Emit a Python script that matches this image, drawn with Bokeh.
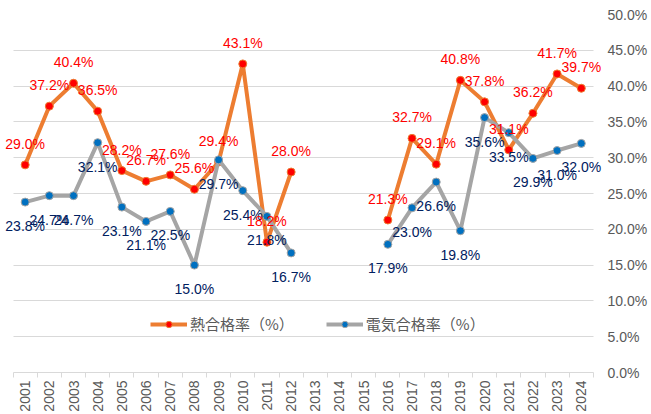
import math
from bokeh.plotting import figure
from bokeh.models import (ColumnDataSource, Range1d, FixedTicker, PrintfTickFormatter,
                          Legend, LegendItem, Label)
from bokeh.embed import file_html
from bokeh.resources import INLINE

years = list(range(2001, 2025))
heat = [29.0, 37.2, 40.4, 36.5, 28.2, 26.7, 27.6, 25.6, 29.4, 43.1, 18.2, 28.0,
        None, None, None, 21.3, 32.7, 29.1, 40.8, 37.8, 31.1, 36.2, 41.7, 39.7]
elec = [23.8, 24.7, 24.7, 32.1, 23.1, 21.1, 22.5, 15.0, 29.7, 25.4, 21.8, 16.7,
        None, None, None, 17.9, 23.0, 26.6, 19.8, 35.6, 33.5, 29.9, 31.0, 32.0]
series_names = ["熱合格率（%）", "電気合格率（%）"]
y_ticks = [0, 5, 10, 15, 20, 25, 30, 35, 40, 45, 50]

NUM_FONT = "Liberation Sans"
CJK_FONT = "Noto Sans CJK JP"

nan = float("nan")
src = ColumnDataSource(dict(
    x=years,
    heat=[nan if v is None else v for v in heat],
    elec=[nan if v is None else v for v in elec],
))

x_lo, x_hi = years[0] - 0.5, years[-1] + 0.5   # category area
pad_l, pad_r = 0.52, 0.46                        # room for edge data labels

p = figure(width=650, height=414,
           x_range=Range1d(x_lo - pad_l, x_hi + pad_r),
           y_range=Range1d(y_ticks[0], y_ticks[-1]),
           output_backend="svg", toolbar_location=None,
           y_axis_location="right",
           min_border_left=0, min_border_right=46, min_border_top=14, min_border_bottom=42)
p.outline_line_color = None
p.background_fill_color = "white"

# x axis
xa = p.xaxis[0]
xa.bounds = (x_lo, x_hi)
xa.ticker = FixedTicker(ticks=years, minor_ticks=[y - 0.5 for y in years] + [x_hi])
xa.major_label_overrides = {y: str(y) for y in years}
xa.major_tick_line_color = None
xa.major_tick_out = 0
xa.major_tick_in = 0
xa.minor_tick_line_color = "#d9d9d9"
xa.minor_tick_out = 5
xa.minor_tick_in = 0
xa.axis_line_color = "#d9d9d9"
xa.major_label_orientation = math.pi / 2
xa.major_label_standoff = 3
xa.major_label_text_font = NUM_FONT
xa.major_label_text_font_size = "14px"
xa.major_label_text_color = "#595959"

# y axis (right)
ya = p.yaxis[0]
ya.ticker = FixedTicker(ticks=y_ticks)
ya.formatter = PrintfTickFormatter(format="%.1f%%")
ya.major_tick_line_color = None
ya.minor_tick_line_color = None
ya.major_tick_out = 0
ya.axis_line_color = None
ya.major_label_standoff = 3
ya.major_label_text_font = NUM_FONT
ya.major_label_text_font_size = "14px"
ya.major_label_text_color = "#595959"

p.xgrid.grid_line_color = None
yg = p.ygrid[0]
if "cross_bounds" in yg.properties():
    yg.ticker = FixedTicker(ticks=y_ticks)
    yg.grid_line_color = "#d9d9d9"
    yg.grid_line_width = 1
    yg.cross_bounds = (x_lo, x_hi)
else:
    yg.grid_line_color = None
    p.segment(x0=[x_lo] * len(y_ticks), x1=[x_hi] * len(y_ticks), y0=y_ticks, y1=y_ticks,
              line_color="#d9d9d9", line_width=1, level="underlay")

l1 = p.line(x="x", y="heat", source=src, line_color="#ED7D31", line_width=4, line_join="round")
s1 = p.scatter(x="x", y="heat", source=src, size=8, fill_color="#FF0000",
               line_color="#ED7D31", line_width=1)
l2 = p.line(x="x", y="elec", source=src, line_color="#A5A5A5", line_width=4, line_join="round")
s2 = p.scatter(x="x", y="elec", source=src, size=8, fill_color="#0070C0",
               line_color="#A5A5A5", line_width=1)

# data labels
for x, v in zip(years, elec):
    if v is not None:
        p.add_layout(Label(x=x, y=v, text=f"{v:.1f}%", y_offset=-24,
                           text_align="center", text_baseline="middle",
                           text_font=NUM_FONT, text_font_size="14px",
                           text_color="#002060"))
for x, v in zip(years, heat):
    if v is not None:
        p.add_layout(Label(x=x, y=v, text=f"{v:.1f}%", y_offset=21,
                           text_align="center", text_baseline="middle",
                           text_font=NUM_FONT, text_font_size="14px",
                           text_color="#FF0000"))

legend = Legend(items=[LegendItem(label=series_names[0], renderers=[l1, s1]),
                       LegendItem(label=series_names[1], renderers=[l2, s2])],
                orientation="horizontal", location=(150, 38),
                glyph_width=37, glyph_height=16, label_height=16,
                label_standoff=3, spacing=32, padding=0, margin=0,
                border_line_color=None, background_fill_alpha=0,
                label_text_font=CJK_FONT, label_text_font_size="15px",
                label_text_color="#595959")
p.add_layout(legend)

open("out.html", "w").write(file_html(p, INLINE))
